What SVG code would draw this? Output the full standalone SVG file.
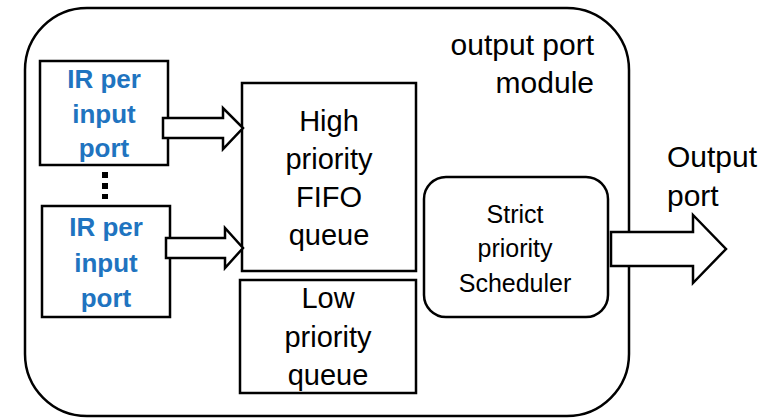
<svg xmlns="http://www.w3.org/2000/svg" width="772" height="418" viewBox="0 0 772 418">
<style>
.box{fill:#fff;stroke:#000;stroke-width:2.5}
.arr{fill:#fff;stroke:#000;stroke-width:2.5;stroke-linejoin:miter}
.t{font-family:"Liberation Sans",Arial,sans-serif;fill:#000;text-anchor:middle}
.s{text-anchor:start}
.e{text-anchor:end}
.b{font-family:"Liberation Sans",Arial,sans-serif;font-weight:bold;fill:#1F74C0;text-anchor:middle;font-size:26px}
</style>
<rect width="772" height="418" fill="#fff"/>
<g id="module">
<rect class="box" x="25" y="8" width="604" height="408" rx="62" ry="62"/>
<text class="t e" x="594" y="55" font-size="30">output port</text>
<text class="t e" x="594" y="93" font-size="30">module</text>
</g>
<g id="ir1">
<rect class="box" x="40" y="61" width="128" height="104"/>
<text class="b" x="104" y="88">IR per</text>
<text class="b" x="104" y="123">input</text>
<text class="b" x="104" y="157">port</text>
</g>
<g id="ir2">
<rect class="box" x="42" y="206" width="128" height="111"/>
<text class="b" x="106" y="236">IR per</text>
<text class="b" x="106" y="272">input</text>
<text class="b" x="106" y="307">port</text>
</g>
<g id="dots">
<line x1="105" y1="172" x2="105" y2="199" stroke="#000" stroke-width="6" stroke-dasharray="6 5"/>
</g>
<g id="high">
<rect class="box" x="242" y="83" width="174" height="188"/>
<text class="t" x="329" y="131" font-size="29">High</text>
<text class="t" x="329" y="169" font-size="29">priority</text>
<text class="t" x="329" y="207" font-size="29">FIFO</text>
<text class="t" x="329" y="245" font-size="29">queue</text>
</g>
<g id="low">
<rect class="box" x="240" y="280" width="176" height="113"/>
<text class="t" x="328" y="308" font-size="29">Low</text>
<text class="t" x="328" y="347" font-size="29">priority</text>
<text class="t" x="328" y="385" font-size="29">queue</text>
</g>
<g id="scheduler">
<rect class="box" x="424" y="177" width="184" height="140" rx="22" ry="22"/>
<text class="t" x="515" y="223" font-size="25">Strict</text>
<text class="t" x="515" y="257" font-size="25">priority</text>
<text class="t" x="515" y="292" font-size="25">Scheduler</text>
</g>
<g id="output">
<text class="t s" x="667" y="167" font-size="30">Output</text>
<text class="t s" x="667" y="206" font-size="30">port</text>
</g>
<g id="connectors">
<polygon class="arr" points="163,118 223,118 223,108 243,128 223,149 223,138 163,138"/>
<polygon class="arr" points="166,238 225,238 225,228 243,248 225,268 225,258 166,258"/>
<polygon class="arr" points="611,232 693,232 693,215 726,249 693,283 693,266 611,266"/>
</g>
</svg>
